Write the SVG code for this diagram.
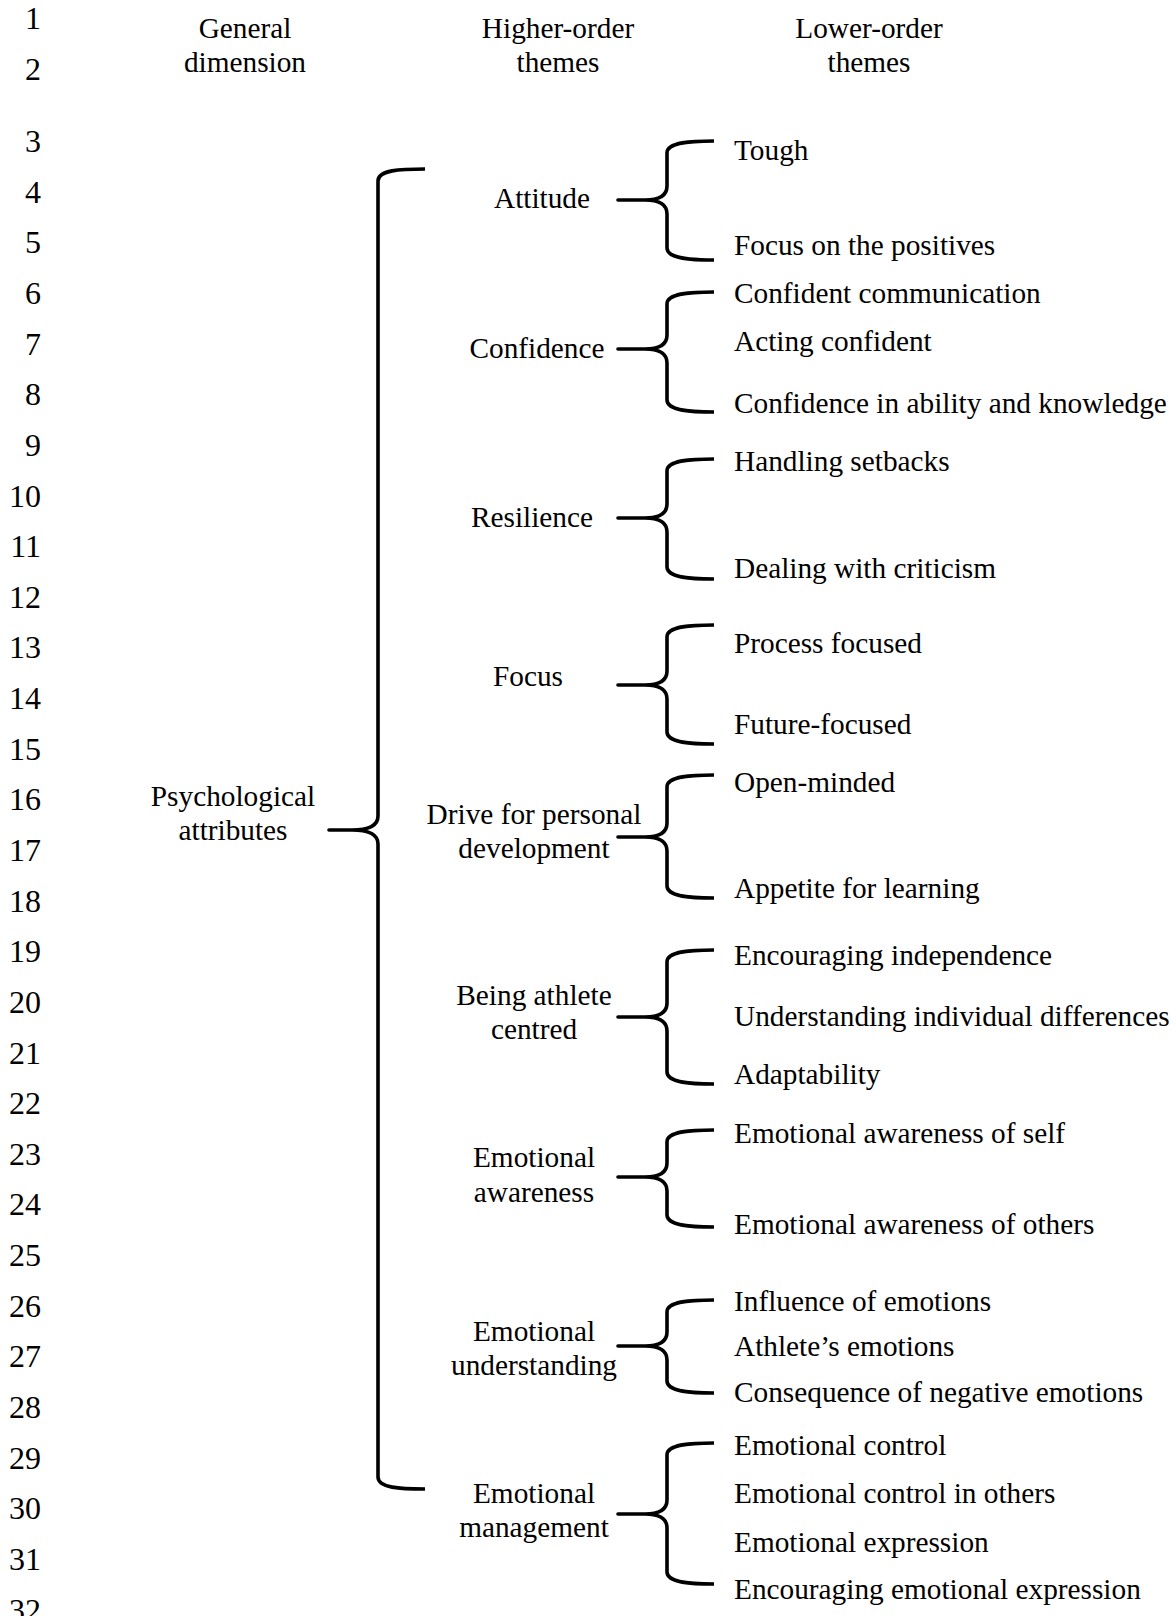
<svg xmlns="http://www.w3.org/2000/svg" width="1176" height="1616" viewBox="0 0 1176 1616">
<style>
text{font-family:"Liberation Serif","Times New Roman",serif;font-size:29.3px;fill:#000}
.c{text-anchor:middle}
.num{font-size:32px;text-anchor:end}
.br{fill:none;stroke:#000;stroke-width:3.6;stroke-linejoin:round;stroke-linecap:butt}
</style>
<rect width="1176" height="1616" fill="#fff"/>
<g id="line-numbers">
<text class="num" x="41" y="29">1</text>
<text class="num" x="41" y="80">2</text>
<text class="num" x="41" y="152">3</text>
<text class="num" x="41" y="202.6">4</text>
<text class="num" x="41" y="253.3">5</text>
<text class="num" x="41" y="303.9">6</text>
<text class="num" x="41" y="354.6">7</text>
<text class="num" x="41" y="405.2">8</text>
<text class="num" x="41" y="455.8">9</text>
<text class="num" x="41" y="506.5">10</text>
<text class="num" x="41" y="557.1">11</text>
<text class="num" x="41" y="607.8">12</text>
<text class="num" x="41" y="658.4">13</text>
<text class="num" x="41" y="709">14</text>
<text class="num" x="41" y="759.7">15</text>
<text class="num" x="41" y="810.3">16</text>
<text class="num" x="41" y="861">17</text>
<text class="num" x="41" y="911.6">18</text>
<text class="num" x="41" y="962.2">19</text>
<text class="num" x="41" y="1012.9">20</text>
<text class="num" x="41" y="1063.5">21</text>
<text class="num" x="41" y="1114.2">22</text>
<text class="num" x="41" y="1164.8">23</text>
<text class="num" x="41" y="1215.4">24</text>
<text class="num" x="41" y="1266.1">25</text>
<text class="num" x="41" y="1316.7">26</text>
<text class="num" x="41" y="1367.4">27</text>
<text class="num" x="41" y="1418">28</text>
<text class="num" x="41" y="1468.6">29</text>
<text class="num" x="41" y="1519.3">30</text>
<text class="num" x="41" y="1569.9">31</text>
<text class="num" x="41" y="1620.6">32</text>
</g>
<g id="headers">
<text class="c" x="245" y="38">General</text>
<text class="c" x="245" y="72">dimension</text>
<text class="c" x="558" y="38">Higher-order</text>
<text class="c" x="558" y="72">themes</text>
<text class="c" x="869" y="38">Lower-order</text>
<text class="c" x="869" y="72">themes</text>
</g>
<g id="connectors">
<path class="br" d="M425,169 C400,169 378,170 378,181 L378,816 Q378,830 352,830 L329,830 L352,830 Q378,830 378,844 L378,1477 C378,1488 400,1489 425,1489"/>
<path class="br" d="M714,141 C692,141 667,142 667,153 L667,186 Q667,200 645,200 L618,200 L645,200 Q667,200 667,214 L667,248 C667,259 692,260 714,260"/>
<path class="br" d="M714,292 C692,292 667,293 667,304 L667,335 Q667,349 645,349 L618,349 L645,349 Q667,349 667,363 L667,400 C667,411 692,412 714,412"/>
<path class="br" d="M714,459 C692,459 667,460 667,471 L667,504 Q667,518 645,518 L618,518 L645,518 Q667,518 667,532 L667,567 C667,578 692,579 714,579"/>
<path class="br" d="M714,625 C692,625 667,626 667,637 L667,671 Q667,685 645,685 L618,685 L645,685 Q667,685 667,699 L667,732 C667,743 692,744 714,744"/>
<path class="br" d="M714,775 C692,775 667,776 667,787 L667,823 Q667,837 645,837 L618,837 L645,837 Q667,837 667,851 L667,886 C667,897 692,898 714,898"/>
<path class="br" d="M714,950 C692,950 667,951 667,962 L667,1003 Q667,1017 645,1017 L618,1017 L645,1017 Q667,1017 667,1031 L667,1072 C667,1083 692,1084 714,1084"/>
<path class="br" d="M714,1130 C692,1130 667,1131 667,1142 L667,1163 Q667,1177 645,1177 L618,1177 L645,1177 Q667,1177 667,1191 L667,1215 C667,1226 692,1227 714,1227"/>
<path class="br" d="M714,1300 C692,1300 667,1301 667,1312 L667,1332 Q667,1346 645,1346 L618,1346 L645,1346 Q667,1346 667,1360 L667,1381 C667,1392 692,1393 714,1393"/>
<path class="br" d="M714,1443 C692,1443 667,1444 667,1455 L667,1500 Q667,1514 645,1514 L618,1514 L645,1514 Q667,1514 667,1528 L667,1572 C667,1583 692,1584 714,1584"/>
</g>
<g id="node-psychological-attributes">
<text class="c" x="233" y="806">Psychological</text>
<text class="c" x="233" y="840">attributes</text>
</g>
<g id="node-attitude"><text class="c" x="542" y="208">Attitude</text></g>
<g id="node-confidence"><text class="c" x="537" y="358">Confidence</text></g>
<g id="node-resilience"><text class="c" x="532" y="527">Resilience</text></g>
<g id="node-focus"><text class="c" x="528" y="686">Focus</text></g>
<g id="node-drive"><text class="c" x="534" y="824">Drive for personal</text><text class="c" x="534" y="858">development</text></g>
<g id="node-athlete-centred"><text class="c" x="534" y="1005">Being athlete</text><text class="c" x="534" y="1039">centred</text></g>
<g id="node-emotional-awareness"><text class="c" x="534" y="1167">Emotional</text><text class="c" x="534" y="1202">awareness</text></g>
<g id="node-emotional-understanding"><text class="c" x="534" y="1341">Emotional</text><text class="c" x="534" y="1375">understanding</text></g>
<g id="node-emotional-management"><text class="c" x="534" y="1503">Emotional</text><text class="c" x="534" y="1537">management</text></g>
<g id="lower-order-themes">
<g id="node-tough"><text x="734" y="160">Tough</text></g>
<g id="node-positives"><text x="734" y="255">Focus on the positives</text></g>
<g id="node-confident-communication"><text x="734" y="303">Confident communication</text></g>
<g id="node-acting-confident"><text x="734" y="351">Acting confident</text></g>
<g id="node-confidence-ability"><text x="734" y="413">Confidence in ability and knowledge</text></g>
<g id="node-setbacks"><text x="734" y="471">Handling setbacks</text></g>
<g id="node-criticism"><text x="734" y="578">Dealing with criticism</text></g>
<g id="node-process"><text x="734" y="653">Process focused</text></g>
<g id="node-future"><text x="734" y="734">Future-focused</text></g>
<g id="node-open-minded"><text x="734" y="792">Open-minded</text></g>
<g id="node-appetite"><text x="734" y="898">Appetite for learning</text></g>
<g id="node-independence"><text x="734" y="965">Encouraging independence</text></g>
<g id="node-individual-differences"><text x="734" y="1026">Understanding individual differences</text></g>
<g id="node-adaptability"><text x="734" y="1084">Adaptability</text></g>
<g id="node-awareness-self"><text x="734" y="1143">Emotional awareness of self</text></g>
<g id="node-awareness-others"><text x="734" y="1234">Emotional awareness of others</text></g>
<g id="node-influence"><text x="734" y="1311">Influence of emotions</text></g>
<g id="node-athletes-emotions"><text x="734" y="1356">Athlete’s emotions</text></g>
<g id="node-consequence"><text x="734" y="1402">Consequence of negative emotions</text></g>
<g id="node-control"><text x="734" y="1455">Emotional control</text></g>
<g id="node-control-others"><text x="734" y="1503">Emotional control in others</text></g>
<g id="node-expression"><text x="734" y="1552">Emotional expression</text></g>
<g id="node-encouraging-expression"><text x="734" y="1599">Encouraging emotional expression</text></g>
</g>
</svg>
